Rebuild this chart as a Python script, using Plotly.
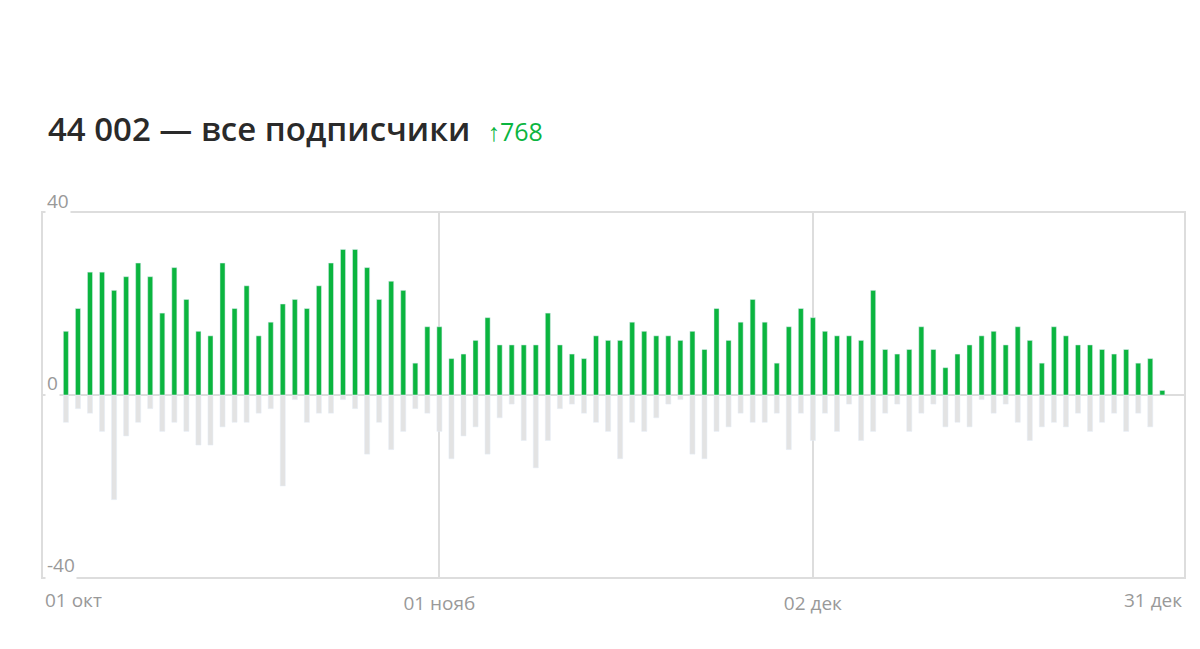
import plotly.graph_objects as go

# daily subscribers, 01 Oct .. 31 Dec
joined = [14, 19, 27, 27, 23, 26, 29, 26, 18, 28, 21, 14, 13, 29, 19, 24, 13, 16, 20, 21,
          19, 24, 29, 32, 32, 28, 21, 25, 23, 7, 15, 15, 8, 9, 12, 17, 11, 11, 11, 11,
          18, 11, 9, 8, 13, 12, 12, 16, 14, 13, 13, 12, 14, 10, 19, 12, 16, 21, 16, 7,
          15, 19, 17, 14, 13, 13, 12, 23, 10, 9, 10, 15, 10, 6, 9, 11, 13, 14, 11, 15,
          12, 7, 15, 13, 11, 11, 10, 9, 10, 7, 8, 1]
left = [-6, -3, -4, -8, -23, -9, -6, -3, -8, -6, -8, -11, -11, -7, -6, -6, -4, -3, -20, -1,
        -6, -4, -4, -1, -3, -13, -6, -12, -8, -3, -4, -8, -14, -9, -7, -13, -5, -2, -10, -16,
        -10, -3, -2, -4, -6, -8, -14, -6, -8, -5, -2, -1, -13, -14, -8, -7, -4, -6, -6, -4,
        -12, -4, -10, -4, -8, -2, -10, -8, -4, -2, -8, -4, -2, -7, -6, -7, -1, -4, -2, -6,
        -10, -7, -6, -7, -4, -8, -6, -4, -8, -4, -7, 0]
x_ticks = [31, 62]
x_labels = ["01 нояб", "02 дек"]
days = list(range(len(joined)))

fig = go.Figure()
fig.add_bar(x=days, y=left, marker_color="#e3e3e3", width=0.42)
fig.add_bar(x=days, y=joined, marker_color="#0bb53f", width=0.42)

fig.update_layout(
    barmode="overlay", showlegend=False,
    width=1186, height=640,
    margin=dict(l=35, r=8, t=205, b=71),
    plot_bgcolor="white", paper_bgcolor="white",
    font=dict(family="Open Sans, Noto Sans, sans-serif", color="#999"),
)
fig.update_xaxes(range=[-1.9, 92.8], tickvals=x_ticks, ticktext=x_labels,
                 showgrid=True, gridcolor="#dddddd", gridwidth=1.5,
                 showline=True, linecolor="#dddddd", mirror=True, linewidth=1.5,
                 tickfont=dict(size=19, color="#999"), ticks="", ticklen=0,
                 ticklabelstandoff=8)
fig.update_yaxes(range=[-40, 40], showticklabels=False, showgrid=False,
                 zeroline=True, zerolinecolor="#dddddd", zerolinewidth=1.5,
                 showline=True, linecolor="#dddddd", mirror=True, linewidth=1.5)

for val in [40, 0, -40]:
    fig.add_annotation(xref="paper", yref="y", x=0, y=val, text=str(val),
                       showarrow=False, xanchor="left", yanchor="bottom",
                       xshift=2, yshift=-3,
                       font=dict(size=19, color="#999"), bgcolor="white")
fig.add_annotation(xref="paper", yref="paper", x=0, y=0, text="01 окт", showarrow=False,
                   xanchor="left", yanchor="top", yshift=-8, font=dict(size=19, color="#999"))
fig.add_annotation(xref="paper", yref="paper", x=1, y=0, text="31 дек", showarrow=False,
                   xanchor="right", yanchor="top", yshift=-8, font=dict(size=19, color="#999"))

fig.add_annotation(xref="paper", yref="paper", x=0.003, y=1.232, showarrow=False,
                   xanchor="left", yanchor="middle",
                   text="44 002 — все подписчики  <span style='color:#0bb53f;font-size:25px;"
                        "font-family:Open Sans'>↑768</span>",
                   font=dict(size=33, color="#2a2a2a", family="Open Sans SemiBold, Open Sans, sans-serif"))
fig.write_html("out.html")
